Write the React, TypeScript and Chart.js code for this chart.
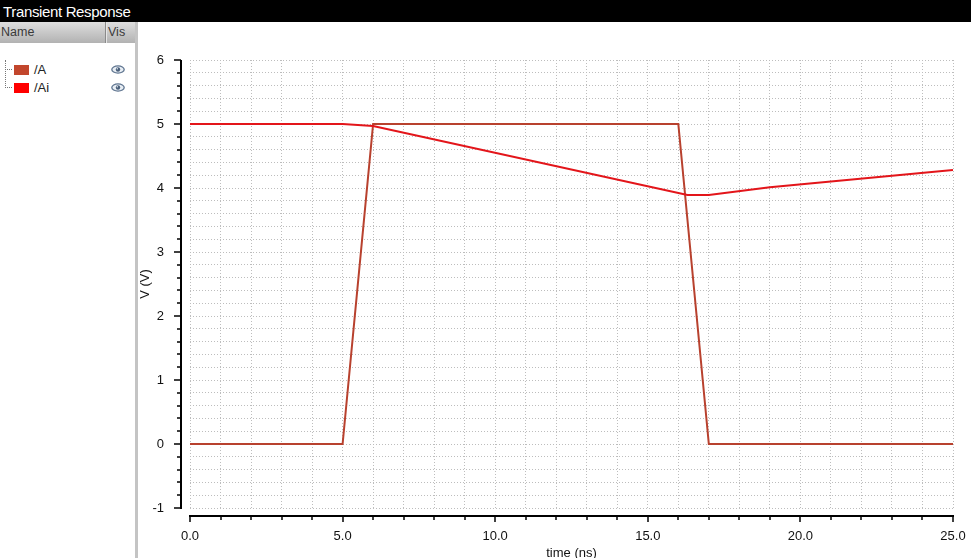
import React, { useEffect, useRef } from "react";
import { Chart, registerables } from "chart.js";

Chart.register(...registerables);

// ---- data ----
const seriesNames = ["/A", "/Ai"];
const timeA = [0, 5, 6, 16, 17, 25];
const voltA = [0, 0, 5, 5, 0, 0];
const timeAi = [0, 5, 6, 16.3, 17, 19, 21, 23, 25];
const voltAi = [5, 5, 4.97, 3.89, 3.89, 4.01, 4.1, 4.19, 4.28];
const xLabelValues = [0, 5, 10, 15, 20, 25];
const yLabelValues = [-1, 0, 1, 2, 3, 4, 5, 6];

const lineColors = ["#b8412e", "#e3151a"];
const swatchColors = ["#c2462c", "#ff0000"];
const FONT = "'Liberation Sans', Arial, sans-serif";

const isOn = (v: number, list: number[]) => list.some((l) => Math.abs(l - v) < 1e-6);

const axesPlugin = {
  id: "offsetAxes",
  afterDraw(chart: any) {
    const { ctx, chartArea: a } = chart;
    const xs = chart.scales.x;
    const ys = chart.scales.y;
    ctx.save();
    ctx.strokeStyle = "#000";
    ctx.lineWidth = 2;
    const axX = a.left - 9;
    const axY = a.bottom + 8;
    ctx.beginPath();
    ctx.moveTo(axX, ys.getPixelForValue(6));
    ctx.lineTo(axX, ys.getPixelForValue(-1) + 1);
    ctx.stroke();
    ctx.beginPath();
    ctx.moveTo(xs.getPixelForValue(0) - 1, axY);
    ctx.lineTo(xs.getPixelForValue(25) + 1, axY);
    ctx.stroke();
    ctx.lineWidth = 1.5;
    ys.ticks.forEach((t: any) => {
      const y = Math.round(ys.getPixelForValue(t.value));
      const len = isOn(t.value, yLabelValues) ? 7 : 4;
      ctx.beginPath();
      ctx.moveTo(axX - len, y);
      ctx.lineTo(axX, y);
      ctx.stroke();
    });
    xs.ticks.forEach((t: any) => {
      const x = Math.round(xs.getPixelForValue(t.value));
      const len = isOn(t.value, xLabelValues) ? 6 : 4;
      ctx.beginPath();
      ctx.moveTo(x, axY);
      ctx.lineTo(x, axY + len);
      ctx.stroke();
    });
    ctx.restore();
  },
};

function Eye({ top }: { top: number }) {
  return (
    <svg style={{ position: "absolute", left: 111, top, width: 14, height: 9 }} viewBox="0 0 14 9">
      <ellipse cx="7" cy="4.5" rx="6.2" ry="3.6" fill="#e8eef4" stroke="#5f7590" strokeWidth="1.3" />
      <circle cx="7" cy="4.5" r="2.2" fill="#4a5f7a" />
      <circle cx="6.3" cy="3.8" r="0.7" fill="#dfe8f0" />
    </svg>
  );
}

export default function App() {
  const canvasRef = useRef<HTMLCanvasElement | null>(null);

  useEffect(() => {
    const canvas = canvasRef.current;
    if (!canvas) return;
    const dataA = timeA.map((t, i) => ({ x: t, y: voltA[i] }));
    const dataAi = timeAi.map((t, i) => ({ x: t, y: voltAi[i] }));
    const chart = new Chart(canvas, {
      type: "line",
      data: {
        datasets: [
          {
            label: seriesNames[0],
            data: dataA,
            borderColor: lineColors[0],
            backgroundColor: lineColors[0],
            borderWidth: 2,
            pointRadius: 0,
            tension: 0,
            order: 2,
          },
          {
            label: seriesNames[1],
            data: dataAi,
            borderColor: lineColors[1],
            backgroundColor: lineColors[1],
            borderWidth: 2,
            pointRadius: 0,
            tension: 0,
            order: 1,
          },
        ],
      },
      options: {
        animation: false,
        responsive: false,
        devicePixelRatio: 1,
        layout: { padding: { top: 38, right: 18, left: 0, bottom: 0 } },
        plugins: { legend: { display: false }, tooltip: { enabled: false } },
        scales: {
          x: {
            type: "linear",
            min: 0,
            max: 25,
            afterFit: (s: any) => {
              s.height = 50;
              s.paddingLeft = 0;
              s.paddingRight = 0;
            },
            grid: { color: "#bdbdbd", lineWidth: 1, drawTicks: false, borderDash: [1, 2] } as any,
            border: { display: false, dash: [1, 2] },
            ticks: {
              stepSize: 1,
              autoSkip: false,
              maxRotation: 0,
              padding: 21,
              color: "#111",
              font: { family: FONT, size: 13 },
              callback: (v: any) => (isOn(Number(v), xLabelValues) ? Number(v).toFixed(1) : ""),
            },
            title: {
              display: true,
              text: "time (ns)",
              color: "#111",
              font: { family: FONT, size: 13 },
              padding: { top: 0, bottom: -3 },
            },
          },
          y: {
            type: "linear",
            min: -1,
            max: 6,
            afterFit: (s: any) => {
              s.width = 52;
              s.paddingTop = 0;
              s.paddingBottom = 0;
            },
            grid: { color: "#bdbdbd", lineWidth: 1, drawTicks: false, borderDash: [1, 2] } as any,
            border: { display: false, dash: [1, 2] },
            ticks: {
              stepSize: 0.2,
              autoSkip: false,
              padding: 26,
              color: "#111",
              font: { family: FONT, size: 13 },
              callback: (v: any) => (isOn(Number(v), yLabelValues) ? String(Math.round(Number(v))) : ""),
            },
            title: {
              display: true,
              text: "V (V)",
              color: "#111",
              font: { family: FONT, size: 13 },
              padding: { top: 0, bottom: 0 },
            },
          },
        },
      },
      plugins: [axesPlugin],
    } as any);
    return () => chart.destroy();
  }, []);

  return (
    <div
      style={{
        position: "absolute",
        left: 0,
        top: 0,
        width: 971,
        height: 558,
        overflow: "hidden",
        background: "#fff",
        fontFamily: FONT,
      }}
    >
      {/* window title bar */}
      <div
        style={{
          position: "absolute",
          left: 0,
          top: 0,
          width: 971,
          height: 22,
          background: "#000",
          color: "#fff",
          fontSize: 15,
          letterSpacing: -0.35,
          lineHeight: "22px",
          paddingLeft: 3,
          paddingTop: 1,
          boxSizing: "border-box",
          whiteSpace: "nowrap",
        }}
      >
        Transient Response
      </div>
      {/* left panel */}
      <div style={{ position: "absolute", left: 0, top: 22, width: 136, height: 536, background: "#fff" }}>
        <div
          style={{
            position: "absolute",
            left: 0,
            top: 0,
            width: 136,
            height: 21,
            background: "linear-gradient(#dedede, #b2b2b2)",
            color: "#3a3a3a",
            fontSize: 12.5,
          }}
        >
          <span style={{ position: "absolute", left: 1, top: 3 }}>Name</span>
          <div style={{ position: "absolute", left: 105, top: 0, width: 1, height: 21, background: "#8a8a8a" }} />
          <div style={{ position: "absolute", left: 106, top: 0, width: 1, height: 21, background: "#e6e6e6" }} />
          <span style={{ position: "absolute", left: 108, top: 3 }}>Vis</span>
        </div>
        {/* tree lines */}
        <div style={{ position: "absolute", left: 5, top: 38, width: 0, height: 28, borderLeft: "1px dotted #777" }} />
        <div style={{ position: "absolute", left: 5, top: 47, width: 7, height: 0, borderTop: "1px dotted #777" }} />
        <div style={{ position: "absolute", left: 5, top: 65, width: 7, height: 0, borderTop: "1px dotted #777" }} />
        {seriesNames.map((n, i) => (
          <React.Fragment key={n}>
            <div
              style={{
                position: "absolute",
                left: 14,
                top: 43 + i * 18,
                width: 15,
                height: 10,
                background: swatchColors[i],
              }}
            />
            <span
              style={{
                position: "absolute",
                left: 34,
                top: 40 + i * 18,
                fontSize: 13,
                color: "#222",
                lineHeight: "15px",
              }}
            >
              {n}
            </span>
            <Eye top={43 + i * 18} />
          </React.Fragment>
        ))}
      </div>
      {/* splitter */}
      <div style={{ position: "absolute", left: 135, top: 22, width: 3, height: 536, background: "#c4c4c4" }} />
      <canvas
        ref={canvasRef}
        width={833}
        height={536}
        style={{ position: "absolute", left: 138, top: 22, width: 833, height: 536 }}
      />
    </div>
  );
}
